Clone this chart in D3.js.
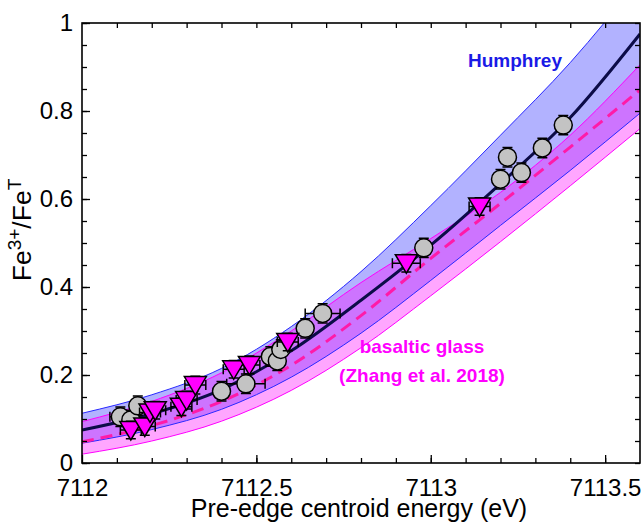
<!DOCTYPE html>
<html>
<head>
<meta charset="utf-8">
<script src="https://cdn.jsdelivr.net/npm/d3@7"></script>
<style>
  body { margin: 0; background: #fff; }
  svg { display: block; font-family: "Liberation Sans", Arial, sans-serif; }
</style>
</head>
<body>
<div id="chart"></div>
<script>
// fit curves at every 0.2 eV
const energyGrid    = [7112.0, 7112.2, 7112.4, 7112.6, 7112.8, 7113.0, 7113.2, 7113.4, 7113.6];
const humphreyFit   = [0.075, 0.112, 0.167, 0.255, 0.37, 0.495, 0.635, 0.785, 0.975];
const humphreyUpper = [0.113, 0.155, 0.215, 0.31, 0.435, 0.585, 0.745, 0.91, 1.10];
const humphreyLower = [0.045, 0.076, 0.122, 0.195, 0.295, 0.415, 0.54, 0.665, 0.795];
const zhangFit      = [0.048, 0.085, 0.14, 0.222, 0.335, 0.465, 0.59, 0.718, 0.848];
const zhangUpper    = [0.094, 0.14, 0.205, 0.30, 0.41, 0.51, 0.615, 0.745, 0.905];
const zhangLower    = [0.02, 0.05, 0.095, 0.165, 0.262, 0.38, 0.503, 0.63, 0.76];

// grey circles
const circleEnergy = [7112.11, 7112.14, 7112.16, 7112.40, 7112.47, 7112.54, 7112.56, 7112.57, 7112.64, 7112.69, 7112.98, 7113.20, 7113.22, 7113.26, 7113.32, 7113.38];
const circleFe     = [0.105, 0.098, 0.130, 0.163, 0.180, 0.242, 0.232, 0.258, 0.306, 0.340, 0.489, 0.645, 0.695, 0.660, 0.716, 0.768];
const circleEErr   = [0.03, 0.02, 0.02, 0.02, 0.055, 0.02, 0.02, 0.02, 0.02, 0.05, 0.02, 0.02, 0.02, 0.02, 0.02, 0.02];
const circleFeErr  = [0.022, 0.022, 0.022, 0.022, 0.022, 0.022, 0.022, 0.022, 0.022, 0.022, 0.022, 0.022, 0.022, 0.022, 0.022, 0.022];

// magenta triangles
const triEnergy = [7112.14, 7112.18, 7112.195, 7112.21, 7112.285, 7112.30, 7112.325, 7112.435, 7112.48, 7112.59, 7112.93, 7113.14];
const triFe     = [0.075, 0.083, 0.115, 0.120, 0.128, 0.143, 0.177, 0.213, 0.223, 0.275, 0.454, 0.583];
const triEErr   = [0.03, 0.03, 0.03, 0.03, 0.03, 0.03, 0.03, 0.03, 0.03, 0.03, 0.04, 0.03];
const triFeErr  = [0.02, 0.02, 0.02, 0.02, 0.02, 0.02, 0.02, 0.02, 0.02, 0.02, 0.02, 0.02];

const xTickLabels = [7112, 7112.5, 7113, 7113.5];
const yTickLabels = [0, 0.2, 0.4, 0.6, 0.8, 1];

const W = 643, H = 522;
const plotL = 82, plotR = 640, plotT = 23, plotB = 463;

const svg = d3.select('#chart').append('svg')
    .attr('width', W)
    .attr('height', H);

const x = d3.scaleLinear().domain([7112, 7113.6]).range([plotL, plotR]);
const y = d3.scaleLinear().domain([0, 1]).range([plotB, plotT]);

svg.append('clipPath').attr('id', 'plot-clip')
  .append('rect')
    .attr('x', plotL).attr('y', plotT)
    .attr('width', plotR - plotL).attr('height', plotB - plotT);

const plot = svg.append('g').attr('clip-path', 'url(#plot-clip)');

const band = (lo, hi) => d3.area()
    .x((d, i) => x(energyGrid[i]))
    .y0((d, i) => y(lo[i]))
    .y1((d, i) => y(hi[i]))
    .curve(d3.curveMonotoneX)(energyGrid);

const line = vals => d3.line()
    .x((d, i) => x(energyGrid[i]))
    .y((d, i) => y(vals[i]))
    .curve(d3.curveMonotoneX)(energyGrid);

// confidence bands
plot.append('path').attr('d', band(humphreyLower, humphreyUpper))
    .attr('fill', 'rgb(0,0,255)').attr('fill-opacity', 0.3);
plot.append('path').attr('d', band(zhangLower, zhangUpper))
    .attr('fill', 'rgb(255,0,255)').attr('fill-opacity', 0.35);

[humphreyUpper, humphreyLower].forEach(v => {
  plot.append('path').attr('d', line(v))
      .attr('fill', 'none').attr('stroke', '#2828ff').attr('stroke-width', 1);
});
[zhangUpper, zhangLower].forEach(v => {
  plot.append('path').attr('d', line(v))
      .attr('fill', 'none').attr('stroke', '#ff00ff').attr('stroke-width', 1);
});

plot.append('path').attr('d', line(humphreyFit))
    .attr('fill', 'none').attr('stroke', '#0c0c48').attr('stroke-width', 3);
plot.append('path').attr('d', line(zhangFit))
    .attr('fill', 'none').attr('stroke', '#ff1aa8').attr('stroke-width', 3)
    .attr('stroke-dasharray', '12,7');

// error bars
function errorBars(g, ex, ey, errX, errY) {
  const cap = 5;
  ex.forEach((e, i) => {
    const cx = x(e), cy = y(ey[i]);
    const x0 = x(e - errX[i]), x1 = x(e + errX[i]);
    const y0 = y(ey[i] - errY[i]), y1 = y(ey[i] + errY[i]);
    const p = d3.path();
    p.moveTo(x0, cy); p.lineTo(x1, cy);
    p.moveTo(x0, cy - cap); p.lineTo(x0, cy + cap);
    p.moveTo(x1, cy - cap); p.lineTo(x1, cy + cap);
    p.moveTo(cx, y0); p.lineTo(cx, y1);
    p.moveTo(cx - cap, y0); p.lineTo(cx + cap, y0);
    p.moveTo(cx - cap, y1); p.lineTo(cx + cap, y1);
    g.append('path').attr('d', p.toString())
        .attr('fill', 'none').attr('stroke', '#000').attr('stroke-width', 1.5);
  });
}

const marks = svg.append('g');

// circles: bars then markers
errorBars(marks, circleEnergy, circleFe, circleEErr, circleFeErr);
marks.selectAll('circle.glass')
  .data(circleEnergy)
  .enter().append('circle')
    .attr('class', 'glass')
    .attr('cx', d => x(d))
    .attr('cy', (d, i) => y(circleFe[i]))
    .attr('r', 9)
    .attr('fill', '#c3c3c3')
    .attr('stroke', '#000')
    .attr('stroke-width', 1.5);

// triangles
errorBars(marks, triEnergy, triFe, triEErr, triFeErr);
const tri = 'M-11,-8.5L11,-8.5L0,10Z';
marks.selectAll('path.basalt')
  .data(triEnergy)
  .enter().append('path')
    .attr('class', 'basalt')
    .attr('d', tri)
    .attr('transform', (d, i) => `translate(${x(d)},${y(triFe[i])})`)
    .attr('fill', '#ff00ff')
    .attr('stroke', '#000')
    .attr('stroke-width', 1.5);

// axes: ticks inward on all four sides
const xMinor = d3.range(71121, 71136).map(v => v / 10);
const yMinor = d3.range(0, 21).map(v => v / 20);

const axisStyle = g => {
  g.select('.domain').remove();
  g.selectAll('line').attr('stroke', '#000').attr('stroke-width', 1.3);
  g.selectAll('text').attr('fill', '#000').style('font-size', '24px');
};

svg.append('g').attr('transform', `translate(0,${plotB})`)
    .call(d3.axisBottom(x).tickValues(xMinor).tickSize(-5).tickFormat(''))
    .call(axisStyle);
svg.append('g').attr('transform', `translate(0,${plotB})`)
    .call(d3.axisBottom(x).tickValues(xTickLabels).tickSize(-8).tickPadding(16).tickFormat(d3.format('')))
    .call(axisStyle);
svg.append('g').attr('transform', `translate(0,${plotT})`)
    .call(d3.axisTop(x).tickValues(xMinor).tickSize(-5).tickFormat(''))
    .call(axisStyle);

svg.append('g').attr('transform', `translate(${plotL},0)`)
    .call(d3.axisLeft(y).tickValues(yMinor).tickSize(-5).tickFormat(''))
    .call(axisStyle);
svg.append('g').attr('transform', `translate(${plotL},0)`)
    .call(d3.axisLeft(y).tickValues(yTickLabels).tickSize(-8).tickPadding(9).tickFormat(d3.format('')))
    .call(axisStyle);
svg.append('g').attr('transform', `translate(${plotR},0)`)
    .call(d3.axisRight(y).tickValues(yMinor).tickSize(-5).tickFormat(''))
    .call(axisStyle);

svg.append('rect')
    .attr('x', plotL).attr('y', plotT)
    .attr('width', plotR - plotL).attr('height', plotB - plotT)
    .attr('fill', 'none').attr('stroke', '#000').attr('stroke-width', 1.6);

// axis titles
svg.append('text')
    .attr('x', 359)
    .attr('y', 516.5)
    .attr('text-anchor', 'middle')
    .style('font-size', '25px')
    .text('Pre-edge centroid energy (eV)');

const yLabel = svg.append('text')
    .attr('transform', 'translate(31,230) rotate(-90)')
    .attr('text-anchor', 'middle')
    .style('font-size', '26.5px');
yLabel.append('tspan').text('Fe');
yLabel.append('tspan').attr('dy', -10).style('font-size', '19px').text('3+');
yLabel.append('tspan').attr('dy', 10).text('/Fe');
yLabel.append('tspan').attr('dy', -10).style('font-size', '19px').text('T');

// curve labels
svg.append('text')
    .attr('x', 562).attr('y', 67)
    .attr('text-anchor', 'end')
    .style('font-size', '19px').style('font-weight', 'bold')
    .attr('fill', '#1a1ae6')
    .text('Humphrey');

svg.append('text')
    .attr('x', 422).attr('y', 353)
    .attr('text-anchor', 'middle')
    .style('font-size', '19px').style('font-weight', 'bold')
    .attr('fill', '#ff00ff')
    .text('basaltic glass');
svg.append('text')
    .attr('x', 422).attr('y', 382)
    .attr('text-anchor', 'middle')
    .style('font-size', '19px').style('font-weight', 'bold')
    .attr('fill', '#ff00ff')
    .text('(Zhang et al. 2018)');
</script>
</body>
</html>
